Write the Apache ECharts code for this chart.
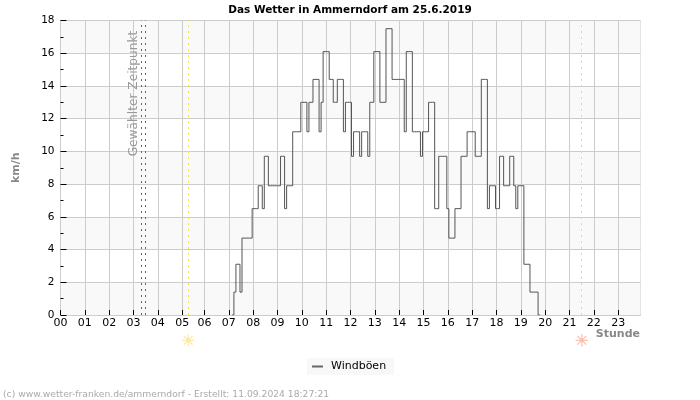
<!DOCTYPE html>
<html><head><meta charset="utf-8">
<style>html,body{margin:0;padding:0;background:#fff}#c{width:700px;height:400px}</style>
<script src="https://cdn.jsdelivr.net/npm/echarts@6/dist/echarts.min.js"></script>
</head><body><div id="c"></div>
<script>
var FONT = '"DejaVu Sans"';
var hourLabels = ['00','01','02','03','04','05','06','07','08','09','10','11','12','13','14','15','16','17','18','19','20','21','22','23'];
var hourIndex = [0,12,24,36,48,60,71,83,95,107,119,131,143,155,167,179,191,203,215,227,239,251,263,275];
var pointCount = 287;
var firstGustIndex = 85;
var gustValues = [0,
 1.4,3.1,3.1,1.4,4.7,4.7,4.7,4.7,4.7,6.5,6.5,6.5,7.9,7.9,6.5,9.7,9.7,
 7.9,7.9,7.9,7.9,7.9,7.9,9.7,9.7,6.5,7.9,7.9,7.9,
 11.2,11.2,11.2,11.2,13,13,13,11.2,13,13,14.4,14.4,14.4,11.2,13,16.1,16.1,16.1,14.4,14.4,
 13,13,14.4,14.4,14.4,11.2,13,13,13,9.7,11.2,11.2,11.2,9.7,11.2,11.2,11.2,9.7,13,13,
 16.1,16.1,16.1,13,13,13,17.5,17.5,17.5,14.4,14.4,14.4,14.4,14.4,14.4,11.2,16.1,16.1,16.1,
 11.2,11.2,11.2,11.2,9.7,11.2,11.2,11.2,13,13,13,6.5,6.5,9.7,9.7,9.7,9.7,6.5,4.7,4.7,4.7,
 6.5,6.5,6.5,9.7,9.7,9.7,11.2,11.2,11.2,11.2,9.7,9.7,9.7,14.4,14.4,14.4,6.5,7.9,7.9,7.9,
 6.5,6.5,9.7,9.7,7.9,7.9,7.9,9.7,9.7,7.9,6.5,7.9,7.9,7.9,3.1,3.1,3.1,1.4,1.4,1.4,1.4,0];
var selectedTimeIndex = [40,42];
var sunriseIndex = 63;
var sunsetIndex = 257;
var legendName = 'Windböen';

var categories = [], values = [];
for (var i = 0; i < pointCount; i++) {
  var h = hourIndex.indexOf(i);
  categories.push(h >= 0 ? hourLabels[h] : '');
  var k = i - firstGustIndex;
  values.push(k >= 0 && k < gustValues.length ? gustValues[k] : null);
}
var isHour = function (idx) { return hourIndex.indexOf(idx) >= 0; };

function vLine(idx, color) {
  return { xAxis: idx, lineStyle: { color: color, width: 1, type: [2, 4] }, label: { show: false } };
}
function sunMark(idx, color) {
  return { xAxis: idx, lineStyle: { color: 'rgba(0,0,0,0)', width: 1, type: 'solid' },
    label: { show: true, position: 'start', formatter: '☀', color: color, fontSize: 16, fontFamily: FONT, distance: 19,
             textBorderColor: color, textBorderWidth: 0.4 } };
}

var chart = echarts.init(document.getElementById('c'), null, { renderer: 'canvas' });
chart.setOption({
  animation: false,
  backgroundColor: '#fff',
  title: [
    { text: 'Das Wetter in Ammerndorf am 25.6.2019', left: 350, top: 5, padding: 0, textAlign: 'center',
      textStyle: { fontFamily: FONT, fontSize: 10.5, fontWeight: 'bold', color: '#000' } },
    { text: '(c) www.wetter-franken.de/ammerndorf - Erstellt: 11.09.2024 18:27:21', left: 3, top: 390, padding: 0,
      textStyle: { fontFamily: FONT, fontSize: 9.2, fontWeight: 'normal', color: '#aaa' } }
  ],
  grid: { left: 60.5, right: 59.5, top: 20.5, bottom: 85, show: true, borderColor: '#ccc', borderWidth: 1, containLabel: false, outerBoundsMode: 'none' },
  legend: {
    data: [{ name: legendName, icon: 'rect' }], left: 307, top: 358, itemWidth: 11, itemHeight: 2, itemGap: 6,
    padding: [3, 8, 3, 5], backgroundColor: '#f8f8f8',
    textStyle: { fontFamily: FONT, fontSize: 11, color: '#000', padding: [0, 0, 0, 3] }
  },
  xAxis: {
    type: 'category', data: categories, boundaryGap: false,
    axisLine: { show: true, lineStyle: { color: '#ccc' } },
    axisTick: { show: true, inside: true, length: 5, interval: function (idx) { return isHour(idx); }, lineStyle: { color: '#000' } },
    axisLabel: { show: true, interval: function (idx) { return isHour(idx); }, fontFamily: FONT, fontSize: 11, color: '#000', margin: 3, hideOverlap: false },
    splitLine: { show: true, interval: function (idx) { return isHour(idx); }, lineStyle: { color: '#ccc', width: 1 } }
  },
  yAxis: {
    type: 'value', min: 0, max: 18, interval: 2,
    name: 'km/h', nameLocation: 'middle', nameGap: 39, nameRotate: 90,
    nameTextStyle: { fontFamily: FONT, fontSize: 11, fontWeight: 'bold', color: '#888' },
    axisLine: { show: true, lineStyle: { color: '#ccc' } },
    axisTick: { show: true, inside: true, length: 6, lineStyle: { color: '#000' } },
    minorTick: { show: true, splitNumber: 2, length: 3, lineStyle: { color: '#000' } },
    axisLabel: { fontFamily: FONT, fontSize: 10.5, color: '#000', margin: 6 },
    splitLine: { show: true, lineStyle: { color: '#ccc', width: 1 } },
    splitArea: { show: true, areaStyle: { color: ['#f9f9f9', '#ffffff'] } }
  },
  series: [{
    name: legendName, type: 'line', data: values, step: 'middle', showSymbol: false, connectNulls: false,
    itemStyle: { color: '#666' },
    lineStyle: { color: '#555', width: 1 },
    markLine: {
      silent: true, symbol: 'none', animation: false,
      data: [
        vLine(selectedTimeIndex[0], '#666'),
        vLine(selectedTimeIndex[1], '#666'),
        vLine(sunriseIndex, '#f5e642'),
        vLine(sunsetIndex, '#f5cf9a'),
        sunMark(sunriseIndex, '#fce9a8'),
        sunMark(sunsetIndex, '#fdbfae')
      ]
    }
  }],
  graphic: [{
    type: 'text', x: 134, y: 93.5, rotation: Math.PI / 2, silent: true, z: 10,
    style: { text: 'Gewählter Zeitpunkt', fontFamily: FONT, fontSize: 12.2, fill: '#999', align: 'center', verticalAlign: 'middle' }
  }, {
    type: 'text', x: 640, y: 334, silent: true, z: 10,
    style: { text: 'Stunde', fontFamily: FONT, fontSize: 11, fontWeight: 'bold', fill: '#888', align: 'right', verticalAlign: 'middle' }
  }]
});
</script></body></html>
